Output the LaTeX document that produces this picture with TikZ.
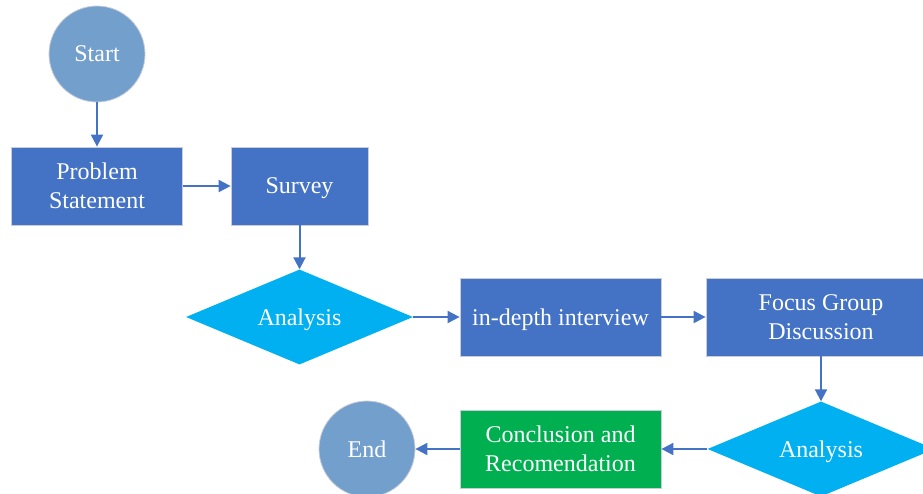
\documentclass[tikz,border=0pt]{standalone}
\usepackage{fontspec}
\setmainfont{Liberation Serif}
\usetikzlibrary{shapes.geometric,arrows.meta}
\definecolor{boxblue}{RGB}{68,114,196}
\definecolor{diacyan}{RGB}{0,176,240}
\definecolor{circblue}{RGB}{115,159,205}
\definecolor{concgreen}{RGB}{0,176,80}
\definecolor{edgegray}{RGB}{200,205,215}
\tikzset{
  txt/.style={text=white, font=\fontsize{24}{29}\selectfont, align=center, inner sep=0pt, text depth=0pt},
  procbox/.style={txt, rectangle, fill=boxblue, draw=edgegray, line width=0.8pt},
  decbox/.style={txt, diamond, aspect=2.39, fill=diacyan, minimum width=227pt, minimum height=95pt},
  termbox/.style={txt, circle, fill=circblue, draw=edgegray, line width=0.8pt, minimum size=96pt},
  flow/.style={draw=boxblue, line width=2pt, -{Triangle[length=12pt,width=12pt]}}
}
\begin{document}
\begin{tikzpicture}[x=1pt,y=-1pt]
\useasboundingbox (0,0) rectangle (923,493);
\node[termbox] (start) at (97,54) {Start};
\node[procbox, minimum width=171pt, minimum height=78pt] (prob) at (97,186) {Problem\\Statement};
\node[procbox, minimum width=137pt, minimum height=78pt] (survey) at (299.5,186) {Survey};
\node[decbox] (ana1) at (299.5,317) {Analysis};
\node[procbox, minimum width=201pt, minimum height=78pt] (interview) at (560.5,317) {in-depth interview};
\node[procbox, minimum width=230pt, minimum height=78pt] (fgd) at (821,317) {Focus Group\\Discussion};
\node[decbox] (ana2) at (821,449) {Analysis};
\node[procbox, fill=concgreen, minimum width=201pt, minimum height=78pt] (conc) at (560.5,449) {Conclusion and\\Recomendation};
\node[termbox] (end) at (367,449) {End};
\draw[flow] (start) -- (prob);
\draw[flow] (prob) -- (survey);
\draw[flow] (survey) -- (ana1);
\draw[flow] (ana1) -- (interview);
\draw[flow] (interview) -- (fgd);
\draw[flow] (fgd) -- (ana2);
\draw[flow] (ana2) -- (conc);
\draw[flow] (conc) -- (end);
\end{tikzpicture}
\end{document}
